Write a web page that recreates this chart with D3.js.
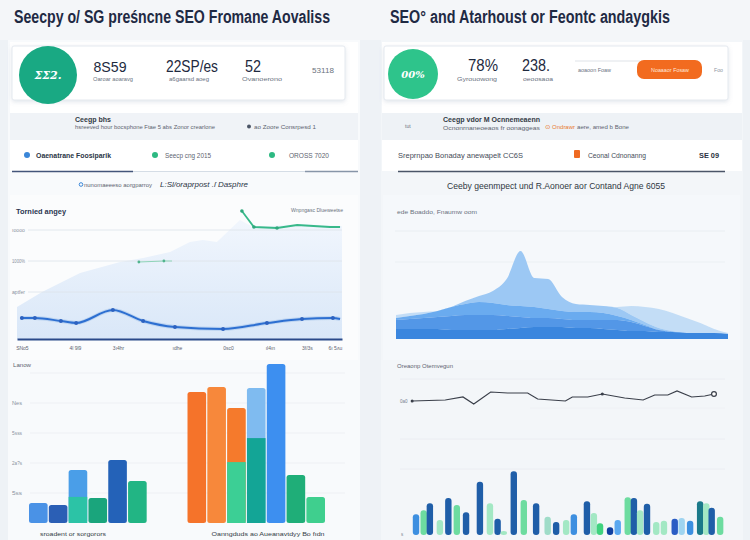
<!DOCTYPE html>
<html><head><meta charset="utf-8">
<script src="https://cdn.jsdelivr.net/npm/d3@7"></script>
<style>html,body{margin:0;padding:0;background:#eef2f6;}svg{display:block;}</style>
</head><body><svg id="c" width="750" height="540"></svg>
<script>
// ---------------- DATA ----------------
const leftKpiValues = ["8S59", "22SP/es", "52"];
const leftKpiLabels = ["Oaroar aoaravg", "a6gaarsd aoeg", "Ovanoerono"];
const rightKpiValues = ["78%", "238."];
const rightKpiLabels = ["Gyrouowong", "oeoosaoa"];

// left line chart (position 0-100 along x, value in chart units)
const blueLinePos = [1.5, 5.5, 13.5, 18.2, 29.5, 38.8, 48.6, 63.4, 76.9, 87.7, 97.2, 99.4];
const blueLineVal = [21, 21, 18, 16, 29, 18, 12, 10, 16, 20, 21, 20];
const greenLinePos = [69.2, 72.9, 80, 86.2, 96.3, 99.4];
const greenLineVal = [128, 112, 111, 114, 112, 112];
const greenStubPos = [37.5, 45.2, 47.7];
const greenStubVal = [77, 78, 78];
const areaPos = [0, 7.7, 19.4, 31.7, 38.8, 47.1, 53.2, 57.2, 61.5, 68.6, 72.6, 87.1, 99.4, 100];
const areaVal = [32, 47, 66, 77, 81, 87, 97, 99, 97, 119, 112, 115, 113, 113];
const leftGridVals = [47, 78, 109];
const leftGridLabels = ["aptfer", "1000%", "ıoooo"];
const leftTickPos = [1.5, 17.8, 31.1, 49.2, 64.9, 77.8, 89.2, 97.8];
const leftTickLabels = ["SNo5", "4l 9l9", "3ı4hr", "ıdhe", "0sc0", "ıl4ın", "3f/3s", "6ı 5ʌu"];

// bottom-left grouped/stacked bars
const barSlots = [0, 1, 2, 3, 4, 5, 8, 9, 10, 11, 12, 13, 14];
const barLower = [6.7, 6, 8.7, 8.3, 21, 14, 43.7, 45.3, 20.3, 28.3, 53, 16, 8.7];
const barUpper = [0, 0, 9, 0, 0, 0, 0, 0, 18, 16.7, 0, 0, 0];
const barLowerColor = ["#4a92e6", "#2b5fb5", "#2cc3a6", "#1aa57c", "#2462b8", "#22b584", "#f5732a", "#f7883b", "#3ccf95", "#13a596", "#3d8ff0", "#1fae78", "#3fcf8e"];
const barUpperColor = ["", "", "#4a9ee8", "", "", "", "", "", "#f57a2c", "#7fbbf0", "", "", ""];
const bottomGridVals = [10, 20, 30, 40, 50];
const bottomGridLabels = ["5ss", "2a?s", "5sss", "Nes", ""];

// right stacked area (5 layers, 25 points)
const areaLayers = [
  [10,10,10,10,9,9,9,9,10,11,12,12,12,11,11,10,9,8,8,7,7,6,6,6,5],
  [9,10,11,12,14,15,15,15,13,11,9,9,8,8,8,9,10,9,5,2,0,0,0,0,0],
  [2,3,4,6,9,11,13,12,11,11,11,9,8,8,8,7,4,2,1,0,0,0,0,0,0],
  [0,0,0,0,0,3,6,12,26,55,29,30,14,8,7,7,8,5,3,2,1,0,0,0,0],
  [3,3,2,0,0,0,0,0,0,0,0,0,0,0,0,0,1,9,15,19,18,15,10,4,1]
];
const areaColors = ["#2f7fdc", "#4a91e6", "#62a6ee", "#97c5f3", "#c0dbf6"];

// right line
const rLinePos = [-0.5, 3.8, 6.1, 7.5, 9.7, 11.9, 14.5, 15.8, 19.4, 20.3, 22.3, 24.2, 27.1, 29.5, 31.0, 32.7, 33.9, 35.8, 37.5, 38.7];
const rLineVal = [47.5, 50, 57.5, 40, 70, 67.5, 67.5, 52.5, 47.5, 57.5, 57.5, 65, 55, 50, 62.5, 62.5, 72.5, 57.5, 60, 65];

// right small bars
const rBarPos = [0,1.0,1.8,3.1,4.2,5.3,6.5,8.3,9.6,10.6,11.4,12.7,14.0,15.6,17.1,18.2,19.5,20.5,22.2,23.1,23.9,25.2,26.2,27.5,28.3,29.1,30.0,31.2,32.2,33.6,34.5,35.6,36.9,37.7,38.4,39.5];
const rBarVal = [32,38,49,23,57,46,35,82,49,25,6,98,54,49,28,20,23,32,52,34,18,12,23,58,57,38,48,20,22,25,26,22,52,49,42,28];
const rBarKind = ["b","g","n","p","n","g","n","n","p","n","p","n","g","n","t","n","p","b","n","p","G","d","l","g","n","p","n","p","p","i","s","b","T","p","n","g"];
const kindColor = {b:"#3d8fe0", g:"#6ddca0", n:"#1f5ea8", p:"#a3e8c4", t:"#9fdcc8", G:"#3fd27e", d:"#0f3fa0", l:"#5aa8f0", i:"#2a5cc4", s:"#9fd4f0", T:"#1b7a8a"};

// ---------------- DRAW ----------------
const svg = d3.select("#c");
const FONT = "'Liberation Sans', Arial, sans-serif";
const defs = svg.append("defs");
const sh = defs.append("filter").attr("id", "sh").attr("x", "-10%").attr("y", "-20%").attr("width", "120%").attr("height", "150%");
sh.append("feDropShadow").attr("dx", 0).attr("dy", 1.5).attr("stdDeviation", 2).attr("flood-color", "#7d8fa8").attr("flood-opacity", 0.22);
const grad = defs.append("linearGradient").attr("id", "ag").attr("x1", 0).attr("y1", 0).attr("x2", 0).attr("y2", 1);
grad.append("stop").attr("offset", "0%").attr("stop-color", "#f1f6fd");
grad.append("stop").attr("offset", "100%").attr("stop-color", "#d9e7f8");

function txt(x, y, s, o = {}) {
  const t = svg.append("text").attr("x", x).attr("y", y).text(s)
    .attr("font-family", o.family || FONT).attr("font-size", o.size || 6)
    .attr("fill", o.fill || "#5a6270").attr("font-weight", o.weight || 400)
    .attr("text-anchor", o.anchor || "start");
  if (o.w) t.attr("textLength", o.w).attr("lengthAdjust", "spacingAndGlyphs");
  if (o.italic) t.attr("font-style", "italic");
  return t;
}
function rect(x, y, w, h, fill, o = {}) {
  const r = svg.append("rect").attr("x", x).attr("y", y).attr("width", w).attr("height", h).attr("fill", fill);
  if (o.rx) r.attr("rx", o.rx);
  if (o.stroke) r.attr("stroke", o.stroke).attr("stroke-width", o.sw || 1);
  if (o.filter) r.attr("filter", o.filter);
  return r;
}
function hline(x1, x2, y, c, w) {
  svg.append("line").attr("x1", x1).attr("x2", x2).attr("y1", y).attr("y2", y).attr("stroke", c).attr("stroke-width", w || 1);
}

// backgrounds
rect(0, 0, 750, 540, "#eef2f6");
rect(0, 0, 750, 40, "#f4f6f9");
rect(8, 40, 352, 500, "#f8fafc");
rect(381, 40, 362, 500, "#f3f6f9");

// titles
txt(14, 23, "Seecpy o/ SG preśncne SEO Fromane Aovaliss", {size: 18, weight: 700, fill: "#1f2a44", w: 316});
txt(390, 23, "SEO° and Atarhoust or Feontc andaygkis", {size: 18, weight: 700, fill: "#1f2a44", w: 280});

// ---- LEFT TOP CARD ----
rect(10, 42, 348, 71, "#ffffff");
rect(12, 46, 333, 54, "#ffffff", {stroke: "#e4e9ef", filter: "url(#sh)", rx: 2});
svg.append("circle").attr("cx", 48).attr("cy", 75).attr("r", 29).attr("fill", "#19a983");
txt(48, 79, "ΣΣ2.", {size: 11, fill: "#ffffff", anchor: "middle", italic: true, weight: 700, family: "'DejaVu Serif', serif"});
const lkx = [110, 192, 253];
const lkw = [33, 52, 16];
const lks = [15, 17, 16];
leftKpiValues.forEach((v, i) => txt(lkx[i], 72, v, {size: lks[i], fill: "#1e2a40", anchor: "middle", w: lkw[i], weight: 500}));
const lklx = [113, 189, 262];
leftKpiLabels.forEach((v, i) => txt(lklx[i], 81, v, {size: 5.5, fill: "#6a7280", anchor: "middle", w: 40}));
txt(323, 73, "53118", {size: 7, fill: "#6d7480", anchor: "middle", w: 22});

// left gray row
rect(10, 113, 348, 27, "#f0f3f7");
txt(75, 122, "Ceegp bhs", {size: 7, weight: 700, fill: "#333a45", w: 36});
txt(75, 129, "hsreeved hour bocsphone Ftae 5 abs Zonor crearlone", {size: 5.5, fill: "#5d6470", w: 140});
svg.append("circle").attr("cx", 249).attr("cy", 126.5).attr("r", 2).attr("fill", "#4b5566");
txt(254, 129, "ao Zoore Consrpesd 1", {size: 5.5, fill: "#5d6470", w: 62});

// left white row
rect(10, 140, 348, 31, "#ffffff");
svg.append("circle").attr("cx", 27).attr("cy", 155).attr("r", 3).attr("fill", "#3a86d8");
txt(36, 157.5, "Oaenatrane Foosiparik", {size: 7, weight: 700, fill: "#2a3545", w: 75});
svg.append("circle").attr("cx", 155).attr("cy", 155).attr("r", 3).attr("fill", "#2db982");
txt(165, 157.5, "Seecp cng 2015", {size: 6.5, fill: "#5d6470", w: 46});
svg.append("circle").attr("cx", 272).attr("cy", 155).attr("r", 3).attr("fill", "#2db982");
txt(289, 157.5, "OROSS 7020", {size: 6.5, fill: "#5d6470", w: 40});
hline(12, 133, 171.5, "#43557a", 1.6);
hline(133, 305, 171.5, "#d5dde6", 1.2);
hline(305, 358, 171.5, "#8795a8", 1.4);

// subtitle row
svg.append("circle").attr("cx", 81).attr("cy", 184.5).attr("r", 1.8).attr("fill", "none").attr("stroke", "#3a86d8").attr("stroke-width", 1);
txt(84, 186.5, "nunomaeeeso aorgparroy", {size: 6, fill: "#5d6470", w: 68});
txt(160, 187, "L:Sl/oraprpost .ſ Dasphre", {size: 8, fill: "#2a3545", italic: true, w: 88});

// ---- LEFT LINE/AREA CHART ----
rect(10, 195, 348, 165, "#fbfcfd");
const xL = d3.scaleLinear().domain([0, 100]).range([17, 342]);
const yL = d3.scaleLinear().domain([0, 140]).range([339, 199]);
txt(16, 214, "Tornied angey", {size: 8, weight: 700, fill: "#2a3550", w: 50});
txt(343, 212, "Wnpngasc Dlueweetse", {size: 5.5, fill: "#6a7280", anchor: "end", w: 52});

const areaData = areaPos.map((p, i) => ({p, v: areaVal[i]}));
svg.append("path").datum(areaData)
  .attr("d", d3.area().x(d => xL(d.p)).y0(yL(0)).y1(d => yL(d.v)).curve(d3.curveLinear))
  .attr("fill", "url(#ag)");

leftGridVals.forEach((v, i) => {
  hline(28, 342, yL(v), "#dde3ea", 0.8);
  txt(12, yL(v) + 1.5, leftGridLabels[i], {size: 4.5, fill: "#8a92a0", w: 13});
});

const blueData = blueLinePos.map((p, i) => ({p, v: blueLineVal[i]}));
const lineL = d3.line().x(d => xL(d.p)).y(d => yL(d.v)).curve(d3.curveMonotoneX);
svg.append("path").datum(blueData).attr("d", lineL).attr("fill", "none").attr("stroke", "#9dbfe9").attr("stroke-width", 4).attr("opacity", 0.5);
svg.append("path").datum(blueData).attr("d", lineL).attr("fill", "none").attr("stroke", "#2d6fd1").attr("stroke-width", 2);
svg.selectAll(".bm").data(blueData.slice(0, 11)).join("circle")
  .attr("cx", d => xL(d.p)).attr("cy", d => yL(d.v)).attr("r", 2).attr("fill", "#2d62c0");

const greenData = greenLinePos.map((p, i) => ({p, v: greenLineVal[i]}));
const lineLin = d3.line().x(d => xL(d.p)).y(d => yL(d.v));
svg.append("path").datum(greenData).attr("d", lineLin).attr("fill", "none").attr("stroke", "#38b98a").attr("stroke-width", 1.8);
svg.selectAll(".gm").data(greenData.slice(0, 3)).join("circle")
  .attr("cx", d => xL(d.p)).attr("cy", d => yL(d.v)).attr("r", 1.8).attr("fill", "#2fa87c");
const stubData = greenStubPos.map((p, i) => ({p, v: greenStubVal[i]}));
svg.append("path").datum(stubData).attr("d", lineLin).attr("fill", "none").attr("stroke", "#8fd4b8").attr("stroke-width", 1);
svg.selectAll(".sm").data(stubData.slice(0, 2)).join("circle")
  .attr("cx", d => xL(d.p)).attr("cy", d => yL(d.v)).attr("r", 1.4).attr("fill", "#52b48f");

const axL = svg.append("g").attr("transform", `translate(0,${yL(0)})`)
  .call(d3.axisBottom(xL).tickValues(leftTickPos).tickFormat((d, i) => leftTickLabels[i]).tickSize(0).tickPadding(7));
axL.select(".domain").attr("stroke", "#2b4a8a").attr("stroke-width", 2.2);
axL.selectAll("text").attr("font-family", FONT).attr("font-size", 5).attr("fill", "#5d6470");

// ---- BOTTOM-LEFT BARS ----
const xB = d3.scaleBand().domain(d3.range(15)).range([29, 325]).paddingInner(0.06);
const yB = d3.scaleLinear().domain([0, 50]).range([523, 373]);
txt(13, 367, "Lanow", {size: 5.5, fill: "#5d6470", w: 18});
bottomGridVals.forEach((v, i) => {
  hline(30, 345, yB(v), "#ebeef2", 0.8);
  if (bottomGridLabels[i]) txt(12, yB(v) + 1.5, bottomGridLabels[i], {size: 4.5, fill: "#8a92a0", w: 10});
});
const bars = barSlots.map((s, i) => ({s, lo: barLower[i], up: barUpper[i], lc: barLowerColor[i], uc: barUpperColor[i]}));
svg.selectAll(".bu").data(bars.filter(d => d.up > 0)).join("rect")
  .attr("x", d => xB(d.s)).attr("width", xB.bandwidth())
  .attr("y", d => yB(d.lo + d.up)).attr("height", d => yB(0) - yB(d.lo + d.up))
  .attr("rx", 2.5).attr("fill", d => d.uc);
svg.selectAll(".bl").data(bars).join("rect")
  .attr("x", d => xB(d.s)).attr("width", xB.bandwidth())
  .attr("y", d => yB(d.lo)).attr("height", d => yB(0) - yB(d.lo))
  .attr("rx", d => d.up > 0 ? 0 : 2.5).attr("fill", d => d.lc);
txt(73, 536, "sroadent or sorgorors", {size: 6, fill: "#333a45", anchor: "middle", w: 66});
txt(268, 536, "Oanngduds ao Aueanavtdyy Bo fıdn", {size: 6, fill: "#333a45", anchor: "middle", w: 113});

// ---- RIGHT TOP CARD ----
rect(382, 42, 360, 71, "#ffffff");
rect(384, 46, 344, 54, "#ffffff", {stroke: "#e4e9ef", filter: "url(#sh)", rx: 2});
svg.append("circle").attr("cx", 413).attr("cy", 74).attr("r", 25).attr("fill", "#2ec48b");
txt(413, 78, "00%", {size: 10, fill: "#ffffff", anchor: "middle", italic: true, weight: 700, family: "'DejaVu Serif', serif"});
const rkx = [483, 536];
const rkw = [30, 28];
rightKpiValues.forEach((v, i) => txt(rkx[i], 71, v, {size: 16, fill: "#1e2a40", anchor: "middle", w: rkw[i], weight: 500}));
const rklx = [477, 538];
rightKpiLabels.forEach((v, i) => txt(rklx[i], 81, v, {size: 5.5, fill: "#6a7280", anchor: "middle", w: i ? 30 : 40}));
hline(575, 640, 61, "#dfe3e8", 1);
txt(578, 72, "aoaoon Foaw", {size: 5.5, fill: "#6a7280", w: 33});
rect(637, 60, 65, 19, "#f26b1f", {rx: 7});
txt(670, 72, "Noaaaor Fosaw", {size: 5.5, fill: "#ffe9dc", anchor: "middle", w: 38});
txt(714, 72, "Foo", {size: 5, fill: "#9097a2", w: 9});

// right gray row
rect(382, 113, 360, 27, "#eef2f6");
txt(405, 128, "tut", {size: 5, fill: "#6a7280"});
txt(443, 122, "Ceegp vdor M Ocnnemeaenn", {size: 7, weight: 700, fill: "#333a45", w: 97});
txt(443, 130, "Ocnonrnaneoeaos fr oonaggeas", {size: 5, fill: "#5d6470", w: 97});
txt(545, 129, "⊙ Ondrawr", {size: 5.5, fill: "#e87a2e", w: 30});
txt(577, 129, "aere, amed b Bone", {size: 5.5, fill: "#5d6470", w: 52});

// right white row
rect(382, 140, 360, 31, "#ffffff");
txt(398, 157.5, "Sreprnpao Bonaday anewapelt CC6S", {size: 6.5, fill: "#444b57", w: 125});
rect(574, 150, 6, 8, "#ef6a22", {rx: 1});
txt(588, 157.5, "Ceonal Cdnonanng", {size: 6.5, fill: "#444b57", w: 58});
txt(699, 157.5, "SE 09", {size: 7.5, fill: "#2a3140", weight: 700, w: 20});
hline(398, 725, 171.5, "#4a5568", 1.6);
txt(556, 189, "Ceeby geenmpect und R.Aonoer aor Contand Agne 6055", {size: 8.5, fill: "#2f3642", anchor: "middle", w: 218});

// ---- RIGHT STACKED AREA ----
rect(383, 195, 357, 165, "#f5f8fb");
txt(397, 214, "ede Boaddo, Fnaumw oom", {size: 5, fill: "#6a7280", w: 80});
hline(395, 725, 231, "#e6ebf1", 0.8);
hline(395, 725, 262, "#e9edf2", 0.8);
const nA = areaLayers[0].length;
const xA = d3.scaleLinear().domain([0, nA - 1]).range([396, 728]);
const yA = d3.scaleLinear().domain([0, 110]).range([339, 229]);
const rows = d3.range(nA).map(i => {
  const o = {i};
  areaLayers.forEach((L, k) => o["k" + k] = L[i]);
  return o;
});
const stack = d3.stack().keys(areaLayers.map((_, k) => "k" + k))(rows);
const areaGen = d3.area().x(d => xA(d.data.i)).y0(d => yA(d[0])).y1(d => yA(d[1])).curve(d3.curveMonotoneX);
svg.selectAll(".ly").data(stack.slice().reverse()).join("path")
  .attr("d", areaGen).attr("fill", (d) => areaColors[d.index]).attr("opacity", 0.95);

// ---- RIGHT LINE + BARS ----
txt(397, 368, "Oreaonp Otemvegun", {size: 5.5, fill: "#5d6470", w: 56});
[379, 439, 469].forEach(y => hline(400, 725, y, "#e8ecf1", 0.8));
hline(530, 725, 408, "#eef1f5", 0.8);
const xR = d3.scaleLinear().domain([0, 40]).range([416, 724]);
const yRL = d3.scaleLinear().domain([0, 100]).range([420, 380]);
const yRB = d3.scaleLinear().domain([0, 100]).range([535, 470]);
txt(400, 402.5, "0a0", {size: 4.5, fill: "#7a8290"});
const rl = rLinePos.map((p, i) => ({p, v: rLineVal[i]}));
svg.append("path").datum(rl).attr("d", d3.line().x(d => xR(d.p)).y(d => yRL(d.v)))
  .attr("fill", "none").attr("stroke", "#3a3f4a").attr("stroke-width", 1.2);
[rl[0], rl[11]].forEach(d => svg.append("circle").attr("cx", xR(d.p)).attr("cy", yRL(d.v)).attr("r", 1.5).attr("fill", "#3a3f4a"));
svg.append("circle").attr("cx", xR(rl[rl.length - 1].p)).attr("cy", yRL(rl[rl.length - 1].v)).attr("r", 2.4)
  .attr("fill", "#ffffff").attr("stroke", "#3a3f4a").attr("stroke-width", 1.2);

const rb = rBarPos.map((p, i) => ({p, v: rBarVal[i], k: rBarKind[i]}));
svg.selectAll(".rb").data(rb).join("rect")
  .attr("x", d => xR(d.p) - 3.2).attr("width", 6.4)
  .attr("y", d => yRB(d.v)).attr("height", d => yRB(0) - yRB(d.v))
  .attr("rx", 3).attr("fill", d => kindColor[d.k]);
txt(401, 536, "s", {size: 4.5, fill: "#7a8290"});
</script></body></html>
